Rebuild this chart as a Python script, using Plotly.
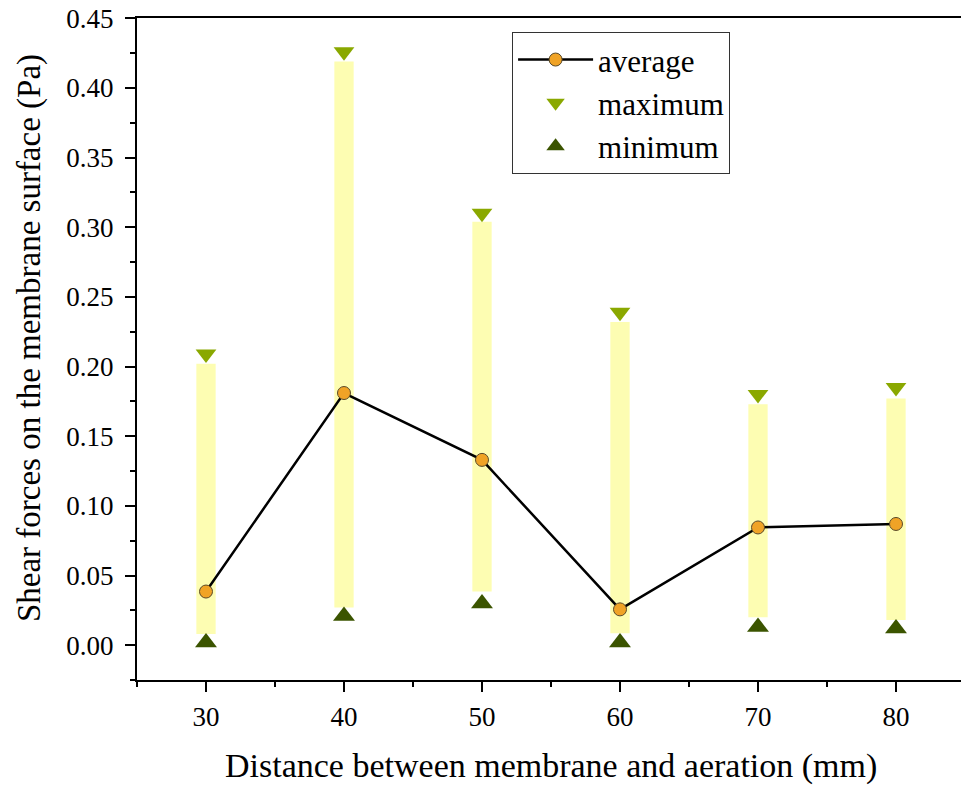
import plotly.graph_objects as go

distance = [30, 40, 50, 60, 70, 80]
average = [0.0385, 0.181, 0.133, 0.0257, 0.0845, 0.087]
maximum = [0.209, 0.426, 0.310, 0.239, 0.180, 0.185]
minimum = [0.002, 0.021, 0.030, 0.002, 0.013, 0.012]
bar_top = [0.202, 0.419, 0.304, 0.232, 0.173, 0.177]
bar_bottom = [0.008, 0.027, 0.0385, 0.0086, 0.020, 0.018]

FONT = "Liberation Serif"

fig = go.Figure()
fig.add_trace(go.Bar(
    x=distance,
    y=[t - b for t, b in zip(bar_top, bar_bottom)],
    base=bar_bottom,
    width=1.4,
    marker=dict(color="#fdfdb2", line=dict(width=0)),
    showlegend=False,
    hoverinfo="skip",
))
fig.add_trace(go.Scatter(
    x=distance, y=average, name="average", mode="lines+markers",
    line=dict(color="black", width=2.5),
    marker=dict(symbol="circle", size=13, color="#f0a326",
                line=dict(color="#5a4a2a", width=1)),
))
fig.add_trace(go.Scatter(
    x=distance, y=maximum, name="maximum", mode="markers",
    marker=dict(symbol="triangle-down", size=18, color="#8aa800",
                line=dict(width=0)),
))
fig.add_trace(go.Scatter(
    x=distance, y=minimum, name="minimum", mode="markers",
    marker=dict(symbol="triangle-up", size=19, color="#3b5400",
                line=dict(width=0)),
))

axis_common = dict(
    showline=True, linecolor="black", linewidth=2, mirror=True,
    ticks="outside", ticklen=10, tickwidth=2, tickcolor="black",
    showgrid=False, zeroline=False, automargin=False,
    tickfont=dict(family=FONT, size=27, color="black"),
    ticklabeloverflow="allow",
)

fig.update_xaxes(
    range=[25, 85], tickmode="linear", tick0=30, dtick=10,
    minor=dict(ticks="outside", ticklen=5, tickwidth=2, tickcolor="black", dtick=5, tick0=25),
    ticklabelstandoff=2,
    **axis_common,
)
fig.update_yaxes(
    range=[-0.025, 0.4502], tickmode="linear", tick0=0, dtick=0.05, tickformat=".2f",
    minor=dict(ticks="outside", ticklen=5, tickwidth=2, tickcolor="black", dtick=0.025, tick0=0),
    ticklabelstandoff=6,
    **axis_common,
)

fig.add_annotation(
    text="Shear forces on the membrane surface (Pa)",
    xref="paper", yref="paper", x=-0.1304, y=0.5166,
    xanchor="center", yanchor="middle", textangle=-90, showarrow=False,
    font=dict(family=FONT, size=33, color="black"),
)
fig.add_annotation(
    text="Distance between membrane and aeration (mm)",
    xref="paper", yref="paper", x=0.5, y=-0.1299,
    xanchor="center", yanchor="middle", showarrow=False,
    font=dict(family=FONT, size=34, color="black"),
)

fig.update_layout(
    width=961, height=780,
    margin=dict(l=129, r=4, t=10, b=108),
    paper_bgcolor="white", plot_bgcolor="white",
    barmode="overlay",
    legend=dict(
        x=0.453, y=0.979, xanchor="left", yanchor="top",
        bgcolor="white", bordercolor="#333333", borderwidth=1,
        font=dict(family=FONT, size=31, color="black"),
        tracegroupgap=0, itemwidth=75,
    ),
)

fig.write_html("out.html")
